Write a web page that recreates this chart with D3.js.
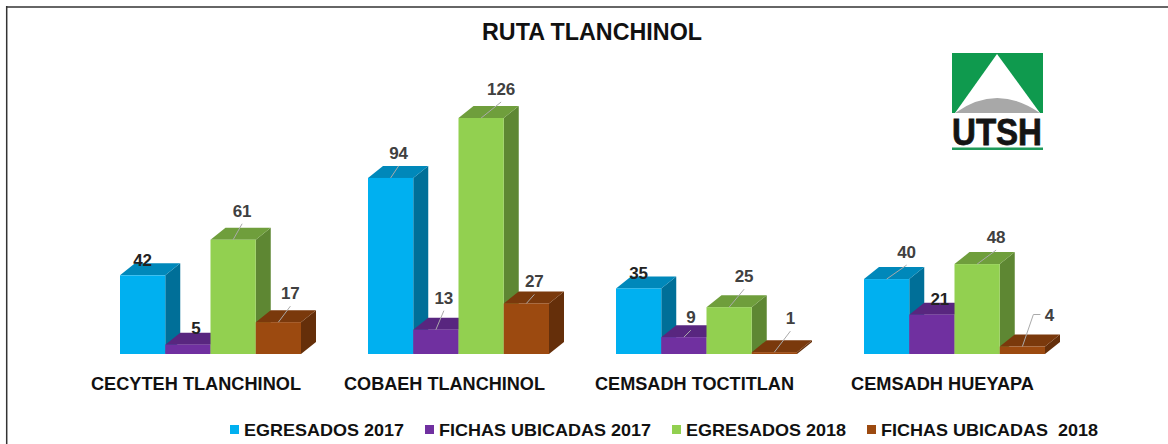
<!DOCTYPE html>
<html><head><meta charset="utf-8">
<script src="https://cdn.jsdelivr.net/npm/d3@7/dist/d3.min.js"></script>
<style>html,body{margin:0;padding:0;background:#fff;overflow:hidden}svg{display:block}text{font-family:"Liberation Sans",Arial,sans-serif}</style>
</head><body><svg id="c" width="1168" height="444"></svg>
<script>
const categories=["CECYTEH TLANCHINOL","COBAEH TLANCHINOL","CEMSADH TOCTITLAN","CEMSADH HUEYAPA"];
const seriesNames=["EGRESADOS 2017","FICHAS UBICADAS 2017","EGRESADOS 2018","FICHAS UBICADAS  2018"];
const egresados2017=[42,94,35,40];
const fichas2017=[5,13,9,21];
const egresados2018=[61,126,25,48];
const fichas2018=[17,27,1,4];
const seriesValues=[egresados2017,fichas2017,egresados2018,fichas2018];
const front=["#00b0f0","#7030a0","#92d050","#9c4a10"];
const topC=["#0088ba","#58267f","#6f9e3c","#7a390c"];
const sideC=["#006f98","#461e65","#5e8733","#652f0a"];

// label placement per series (rows) and category (columns), as pixel offsets from the bar's top centre
const labelDx=[[0,8,0,20],[8,8,7,8],[9,20,15,19],[12,8,16,27]];
const labelDy=[[-9,-19,-9,-21],[-11,-26,-14,-10],[-23,-23,-25,-21],[-23,-16,-28,-26]];
const noLeader=new Set(["0-0","1-0","0-2","1-3"]);

const svg=d3.select("#c");
svg.append("line").attr("x1",6).attr("x2",1168).attr("y1",7).attr("y2",7).attr("stroke","#666").attr("stroke-width",2);
svg.append("line").attr("x1",6.7).attr("x2",6.7).attr("y1",6).attr("y2",444).attr("stroke","#333").attr("stroke-width",1.5);
svg.append("text").attr("x",592).attr("y",40).attr("text-anchor","middle").attr("font-size",23).attr("font-weight","bold").attr("textLength",220).attr("lengthAdjust","spacingAndGlyphs").attr("fill","#111").text("RUTA TLANCHINOL");

const y=d3.scaleLinear().domain([0,126]).range([354,118]);
const x0=d3.scaleBand().domain(categories).range([120,1112]);
const groupW=181;
const x1=d3.scaleBand().domain(d3.range(4)).range([0,groupW]);
const dx=15,dy=12;
const bars=[];
categories.forEach((c,i)=>seriesValues.forEach((s,k)=>bars.push({c,i,k,v:s[i]})));
const g=svg.append("g");
const p=a=>a.map(q=>q.join(",")).join(" ");
bars.forEach(b=>{
  const xl=x0(b.c)+x1(b.k), xr=xl+x1.bandwidth(), yt=y(b.v), yb=y(0);
  g.append("polygon").attr("points",p([[xr,yt],[xr+dx,yt-dy],[xr+dx,yb-dy],[xr,yb]])).attr("fill",sideC[b.k]);
  g.append("polygon").attr("points",p([[xl,yt],[xl+dx,yt-dy],[xr+dx,yt-dy],[xr,yt]])).attr("fill",topC[b.k]);
  g.append("rect").attr("x",xl).attr("y",yt).attr("width",xr-xl).attr("height",yb-yt).attr("fill",front[b.k]);
});
bars.forEach(b=>{
  const xc=x0(b.c)+x1(b.k)+x1.bandwidth()/2, yt=y(b.v);
  const lx=xc+labelDx[b.k][b.i], ly=yt+labelDy[b.k][b.i];
  const plain=noLeader.has(b.k+"-"+b.i);
  if(b.k===3&&b.i===3){
    g.append("path").attr("d",`M${xc},${yt}L${xc+11},${yt-32}H${xc+18}`).attr("fill","none").attr("stroke","#aaa").attr("stroke-width",1);
  } else if(!plain){
    g.append("line").attr("x1",xc).attr("y1",yt).attr("x2",lx).attr("y2",ly+7).attr("stroke","#aaa").attr("stroke-width",1);
  }
  g.append("text").attr("x",lx).attr("y",ly).attr("text-anchor","middle").attr("font-size",17).attr("font-weight","bold").attr("fill",plain?"#222":"#404040").text(b.v);
});
const catX=[91,344,595,851], catW=[210,201,199,183];
categories.forEach((c,i)=>svg.append("text").attr("x",catX[i]).attr("y",390).attr("font-size",17.5).attr("font-weight","bold").attr("textLength",catW[i]).attr("lengthAdjust","spacingAndGlyphs").attr("fill","#111").text(c));
const legX=[230,425,672,867], legW=[160,212,160,217];
seriesNames.forEach((n,i)=>{
  svg.append("rect").attr("x",legX[i]).attr("y",425).attr("width",9).attr("height",9).attr("fill",front[i]);
  svg.append("text").attr("x",legX[i]+14).attr("y",435.5).attr("font-size",17).attr("font-weight","bold").attr("textLength",legW[i]).attr("lengthAdjust","spacingAndGlyphs").attr("fill","#111").style("white-space","pre").text(n);
});
const logo=svg.append("g");
logo.append("rect").attr("x",952).attr("y",53).attr("width",91).attr("height",60).attr("fill","#0f9a4e");
logo.append("path").attr("d","M955,113L997,54L1040,113Z").attr("fill","#fff");
logo.append("path").attr("d","M955,113Q997,83 1040,113Z").attr("fill","#a8a8a8");
logo.append("text").attr("x",997).attr("y",145).attr("text-anchor","middle").attr("font-size",36).attr("font-weight","bold").attr("textLength",90).attr("lengthAdjust","spacingAndGlyphs").attr("fill","#141414").attr("stroke","#141414").attr("stroke-width",0.8).text("UTSH");
logo.append("rect").attr("x",952).attr("y",147.5).attr("width",91).attr("height",2.5).attr("fill","#1f9a5a");
</script></body></html>
